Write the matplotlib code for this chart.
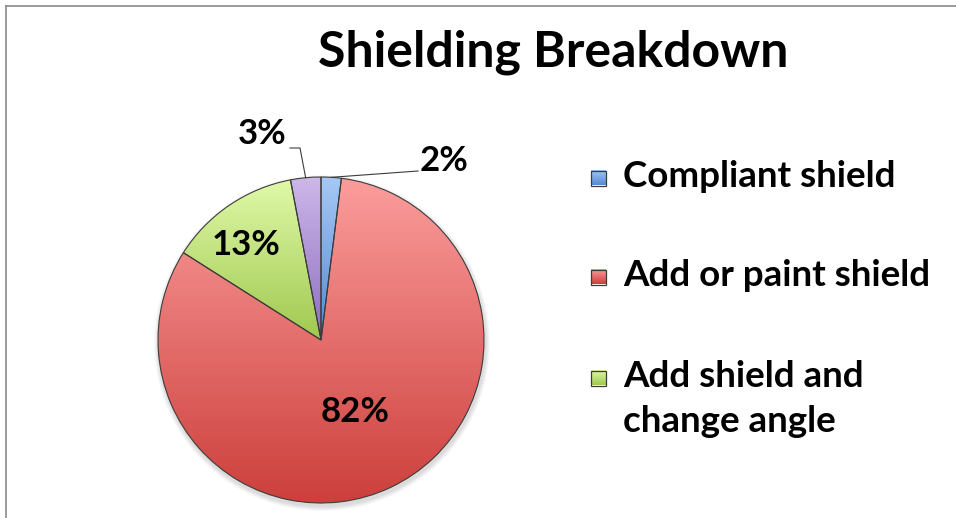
import numpy as np
import matplotlib.pyplot as plt
from matplotlib.colors import LinearSegmentedColormap
from matplotlib.lines import Line2D

# data
labels = ['Compliant shield', 'Add or paint shield', 'Add shield and\nchange angle', 'Other']
values = [2, 82, 13, 3]
show_in_legend = [True, True, True, False]

# gradient colours, top -> bottom (excel style)
top_colors = ['#a6c8f5', '#fb9d9c', '#e0f9a8', '#cdb8e9']
bot_colors = ['#5489d2', '#cc3f3b', '#a0c850', '#8c6dc0']

W, H = 956, 518
fig = plt.figure(figsize=(W / 100, H / 100), dpi=100)
ax = fig.add_axes([0, 0, 1, 1])

cx, cy, r = 321, H - 340, 163

# soft shadow under the pie
for k in range(6):
    ax.add_patch(plt.Circle((cx + 1, cy - 3), r + 1 + k * 0.8, color='#000000',
                            alpha=0.025, lw=0, zorder=0))

wedges, _ = ax.pie(values, startangle=90, counterclock=False,
                   center=(cx, cy), radius=r, frame=True,
                   wedgeprops=dict(edgecolor='#3c3c3c', linewidth=0.8))

# gradient fill, clipped to each wedge
grad = np.linspace(0, 1, 256).reshape(-1, 1)
for w, top, bot in zip(wedges, top_colors, bot_colors):
    verts = w.get_patch_transform().transform(w.get_path().vertices)
    x0, y0 = verts.min(axis=0)
    x1, y1 = verts.max(axis=0)
    cmap = LinearSegmentedColormap.from_list('g', [bot, top])
    im = ax.imshow(grad, cmap=cmap, origin='lower', aspect='auto',
                   extent=(x0, x1, y0, y1), zorder=1, interpolation='bilinear')
    im.set_clip_path(w)
    w.set_facecolor('none')
    w.set_zorder(2)

ax.set_xlim(0, W)
ax.set_ylim(0, H)
ax.axis('off')

fnt = 'Lato'

def mid_angle(w, off=0):
    return np.deg2rad((w.theta1 + w.theta2) / 2 + off)

# labels inside the big slices
inside = {1: (0.49, 0), 2: (0.745, 4)}
for i, (d, off) in inside.items():
    a = mid_angle(wedges[i], off)
    ax.text(cx + d * r * np.cos(a), cy + d * r * np.sin(a), f'{values[i]}%',
            ha='center', va='center', fontsize=25, fontweight='bold',
            family=fnt, color='black', zorder=5)

# small slices: labels outside with leader lines
a = mid_angle(wedges[0])
p = (cx + r * np.cos(a), cy + r * np.sin(a))
ax.plot([p[0], 418], [p[1], H - 171], color='#3c3c3c', lw=0.8, zorder=4)
ax.text(420, H - 161, f'{values[0]}%', ha='left', va='center', fontsize=25,
        fontweight='bold', family=fnt, zorder=5)

a = mid_angle(wedges[3])
p = (cx + r * np.cos(a), cy + r * np.sin(a))
ax.plot([p[0], 300, 290], [p[1], H - 148, H - 148], color='#3c3c3c', lw=0.8, zorder=4)
ax.text(287, H - 134, f'{values[3]}%', ha='right', va='center', fontsize=25,
        fontweight='bold', family=fnt, zorder=5)

# title
fig.text(553 / W, 1 - 52 / H, 'Shielding Breakdown', ha='center', va='center',
         fontsize=36, fontweight='bold', family=fnt, color='black')

# legend (manual, for gradient markers)
leg_y = [178, 277, 378]
k = 0
for i, lab in enumerate(labels):
    if not show_in_legend[i]:
        continue
    y = H - leg_y[k]
    ax.imshow(grad, cmap=LinearSegmentedColormap.from_list('g', [bot_colors[i], top_colors[i]]),
              origin='lower', aspect='auto', extent=(591, 606, y - 7.5, y + 7.5), zorder=3)
    ax.add_patch(plt.Rectangle((591, y - 7.5), 15, 15, fill=False,
                               edgecolor='#3c3c3c', lw=0.9, zorder=4))
    for j, line in enumerate(lab.split('\n')):
        ax.text(623, y - 9 - j * 45, line, ha='left', va='baseline', fontsize=26.5,
                fontweight='bold', family=fnt)
    k += 1

ax.set_xlim(0, W)
ax.set_ylim(0, H)

# chart border (top and left visible)
fig.add_artist(Line2D([6 / W, 1], [1 - 6 / H, 1 - 6 / H], color='#8a8a8a', lw=1.2))
fig.add_artist(Line2D([6 / W, 6 / W], [0, 1 - 6 / H], color='#8a8a8a', lw=1.2))

fig.savefig('out.png', dpi=100)
